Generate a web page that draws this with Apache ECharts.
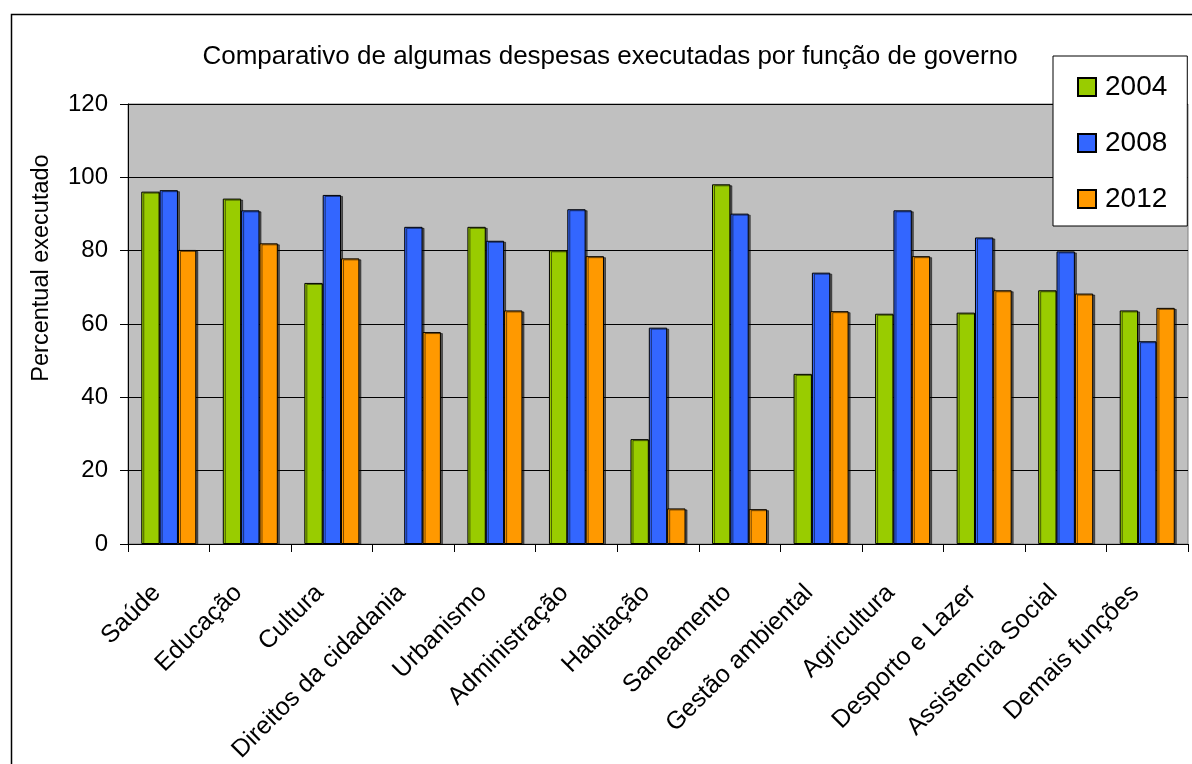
<!DOCTYPE html>
<html>
<head>
<meta charset="utf-8">
<script src="https://cdn.jsdelivr.net/npm/echarts@6/dist/echarts.min.js"></script>
<style>
html,body{margin:0;padding:0;background:#fff;}
#chart{width:1192px;height:764px;}
</style>
</head>
<body>
<div id="chart"></div>
<script>
const categories = ["Saúde","Educação","Cultura","Direitos da cidadania","Urbanismo","Administração","Habitação","Saneamento","Gestão ambiental","Agricultura","Desporto e Lazer","Assistencia Social","Demais funções"];
const seriesNames = ["2004","2008","2012"];
const values2004 = [96.1, 94.2, 71.2, null, 86.5, 80.1, 28.6, 98.1, 46.4, 62.8, 63.1, 69.2, 63.7];
const values2008 = [96.5, 91.0, 95.2, 86.5, 82.7, 91.3, 59.0, 90.1, 74.0, 91.0, 83.6, 79.8, 55.3];
const values2012 = [80.2, 82.0, 77.9, 57.8, 63.7, 78.5, 9.7, 9.5, 63.5, 78.5, 69.2, 68.3, 64.4];
const yTicks = [0, 20, 40, 60, 80, 100, 120];
const titleText = "Comparativo de algumas despesas executadas por função de governo";
const yAxisTitle = "Percentual executado";

const colors = ["#99cc00", "#3366ff", "#ff9900"];
const allValues = [values2004, values2008, values2012];
const FONT = "'Liberation Sans', Arial, sans-serif";

const chart = echarts.init(document.getElementById('chart'), null, {renderer: 'canvas'});
const series = seriesNames.map((name, i) => ({
  name: name,
  type: 'bar',
  data: allValues[i],
  barGap: '0%',
  barCategoryGap: '32.5%',
  itemStyle: {
    color: colors[i],
    borderColor: '#000',
    borderWidth: 1,
    shadowColor: 'rgba(0,0,0,0.55)',
    shadowOffsetX: 2,
    shadowOffsetY: 1,
    shadowBlur: 0
  },
  emphasis: {disabled: true}
}));

chart.setOption({
  animation: false,
  backgroundColor: '#fff',
  textStyle: {fontFamily: FONT},
  title: {
    text: titleText,
    left: 605,
    textAlign: 'center',
    top: 39,
    textStyle: {fontFamily: FONT, fontSize: 26, fontWeight: 'normal', color: '#000'}
  },
  legend: {
    data: seriesNames,
    orient: 'vertical',
    left: 1053,
    top: 56,
    padding: [17, 20, 13, 24],
    itemGap: 28,
    itemWidth: 18,
    itemHeight: 18,
    backgroundColor: '#fff',
    borderColor: '#000',
    borderWidth: 1,
    icon: 'rect',
    textStyle: {fontFamily: FONT, fontSize: 28, color: '#000', lineHeight: 28, padding: [0, 0, 0, 4]}
  },
  graphic: [{
    type: 'rect',
    left: 9, top: 12,
    shape: {width: 1200, height: 800},
    style: {fill: null, stroke: '#000', lineWidth: 1.5},
    silent: true,
    z: -1
  }],
  grid: {
    left: 128, right: 4, top: 104, bottom: 220,
    containLabel: false,
    outerBoundsMode: 'none',
    show: true,
    backgroundColor: '#c0c0c0',
    borderColor: '#808080',
    borderWidth: 1
  },
  xAxis: {
    type: 'category',
    data: categories,
    axisLine: {lineStyle: {color: '#000', width: 1}},
    axisTick: {show: true, length: 8, lineStyle: {color: '#000'}, alignWithLabel: false},
    axisLabel: {rotate: 45, margin: 33, fontSize: 25, fontFamily: FONT, color: '#000', interval: 0,
      padding: [0, 17, 0, 0]}
  },
  yAxis: {
    type: 'value',
    min: 0, max: 120, interval: 20,
    name: yAxisTitle,
    nameLocation: 'middle',
    nameGap: 74,
    nameTextStyle: {fontFamily: FONT, fontSize: 23.5, color: '#000', padding: [0, 0, 0, 112]},
    axisLine: {show: true, lineStyle: {color: '#000', width: 1}},
    axisTick: {show: true, length: 8, lineStyle: {color: '#000'}},
    axisLabel: {fontSize: 24, fontFamily: FONT, color: '#000', margin: 20,
      formatter: v => yTicks.includes(v) ? String(v) : ''},
    splitLine: {show: true, lineStyle: {color: '#000', width: 1}}
  },
  series: series
});
</script>
</body>
</html>
